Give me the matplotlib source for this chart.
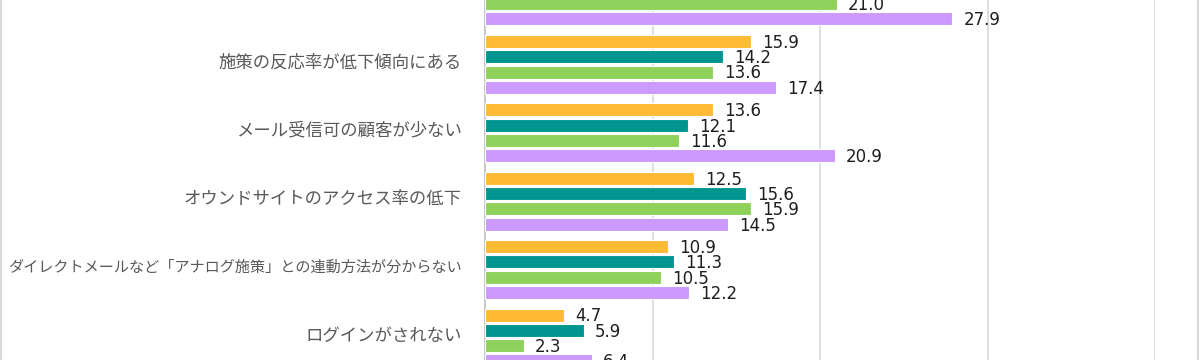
import numpy as np
import matplotlib
matplotlib.use("Agg")
import matplotlib.pyplot as plt
from matplotlib.lines import Line2D

plt.rcParams['font.family'] = ['Noto Sans CJK JP', 'DejaVu Sans']

categories = [
    "サイト内回遊率が低く、エンゲージが弱い",
    "施策の反応率が低下傾向にある",
    "メール受信可の顧客が少ない",
    "オウンドサイトのアクセス率の低下",
    "ダイレクトメールなど「アナログ施策」との連動方法が分からない",
    "ログインがされない",
]
# the first group's top two bars are cut off in the reference
series_a = [np.nan, 15.9, 13.6, 12.5, 10.9, 4.7]
series_b = [np.nan, 14.2, 12.1, 15.6, 11.3, 5.9]
series_c = [21.0, 13.6, 11.6, 15.9, 10.5, 2.3]
series_d = [27.9, 17.4, 20.9, 14.5, 12.2, 6.4]

colors = ['#FFBB33', '#00968F', '#8FD25B', '#CC99FF']
series = [series_a, series_b, series_c, series_d]

fig = plt.figure(figsize=(12, 3.6), dpi=100)
ax = fig.add_axes([485 / 1200, 0, 670 / 1200, 1])

y = np.arange(len(categories))
step = 0.224
for k, (vals, col) in enumerate(zip(series, colors)):
    pos = y + (k - 1.5) * step
    ax.barh(pos, vals, height=0.19, color=col, edgecolor='white', linewidth=0.8, zorder=3)
    for p, v in zip(pos, vals):
        if np.isnan(v):
            continue
        ax.annotate(f"{v:.1f}", (v, p), xytext=(8, -1), textcoords='offset points',
                    va='center', ha='left', fontsize=12, color='#1e1e1e',
                    family='DejaVu Sans', annotation_clip=False, clip_on=False)

ax.set_xlim(0, 40)
ax.set_ylim(364 / 68.4, 4.0 / 68.4)
ax.set_xticks([10, 20, 30, 40])
ax.xaxis.grid(True, color='#D9D9D9', linewidth=1.2, zorder=0)
ax.tick_params(axis='x', length=0, labelbottom=False)
ax.set_yticks([])
for c, yy in zip(categories, y):
    # the long label is squeezed so it fits the left margin like the reference
    fs = 12.5 if len(c) < 24 else 10.9
    ax.text(-1.4, yy - 0.03, c, ha='right', va='center', fontsize=fs,
            color='#595959', clip_on=False)
for s in ['top', 'right', 'bottom']:
    ax.spines[s].set_visible(False)
ax.spines['left'].set_color('#BFBFBF')
ax.spines['left'].set_linewidth(1.2)

# outer chart frame
fig.add_artist(Line2D([1 / 1200, 1 / 1200], [0, 1], color='#D9D9D9', linewidth=1.5))
fig.add_artist(Line2D([1198 / 1200, 1198 / 1200], [0, 1], color='#D9D9D9', linewidth=1.5))

fig.savefig('out.png', dpi=100)
